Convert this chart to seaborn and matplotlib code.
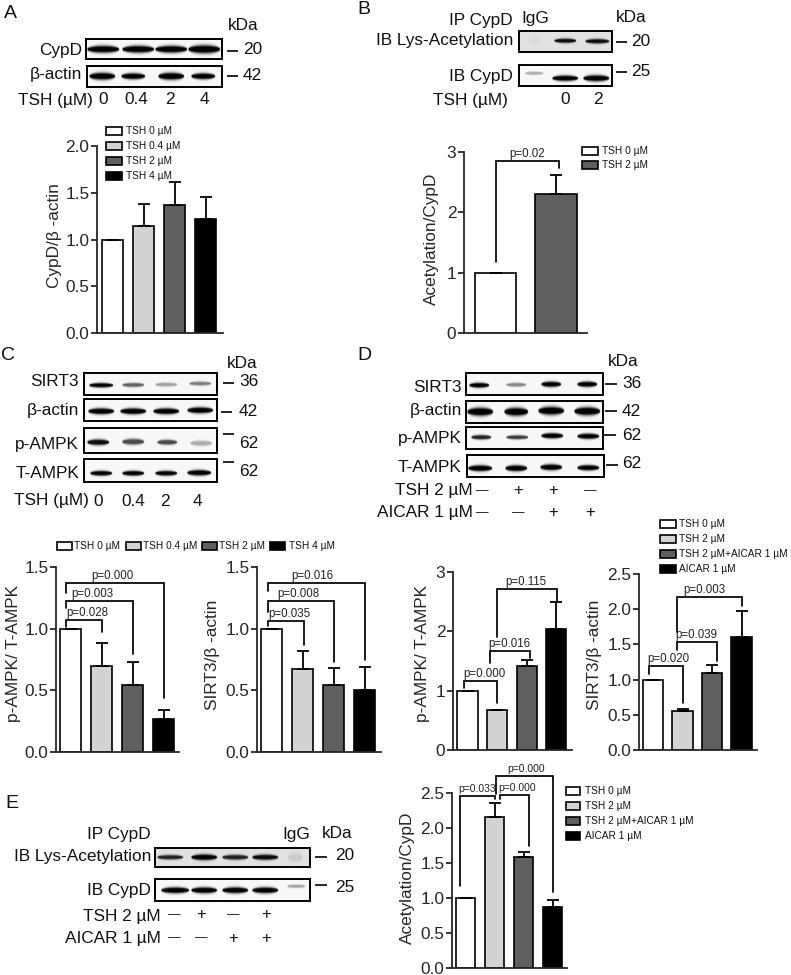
import numpy as np
import pandas as pd
import matplotlib
matplotlib.use('Agg')
import matplotlib.pyplot as plt
from matplotlib.patches import Rectangle
import seaborn as sns

# colours of the four bar groups
WHITE, LIGHT, DARK, BLACK = '#ffffff', '#d3d3d3', '#5f5f5f', '#000000'

# bar values and upper error arms
a_groups = ['TSH 0 µM', 'TSH 0.4 µM', 'TSH 2 µM', 'TSH 4 µM']
a_vals = [1.0, 1.14, 1.37, 1.22]
a_errs = [0.0, 0.24, 0.25, 0.23]

b_groups = ['TSH 0 µM', 'TSH 2 µM']
b_vals = [1.0, 2.31]
b_errs = [0.0, 0.31]

c1_vals = [1.0, 0.70, 0.54, 0.27]
c1_errs = [0.0, 0.18, 0.19, 0.07]
c2_vals = [1.0, 0.67, 0.54, 0.50]
c2_errs = [0.0, 0.15, 0.14, 0.19]

d_groups = ['TSH 0 µM', 'TSH 2 µM', 'TSH 2 µM+AICAR 1 µM', 'AICAR 1 µM']
d1_vals = [1.0, 0.68, 1.42, 2.04]
d1_errs = [0.0, 0.0, 0.09, 0.46]
d2_vals = [1.0, 0.56, 1.10, 1.60]
d2_errs = [0.0, 0.02, 0.11, 0.38]

e_vals = [1.0, 2.15, 1.58, 0.87]
e_errs = [0.0, 0.20, 0.08, 0.09]

# brackets: x left, y left end, y top, x right, y right end, text, text x
b_brackets = [(0.0, 1.18, 2.85, 1.05, 2.73, 'p=0.02', 0.52)]
c1_brackets = [(-0.16, 1.016, 1.07, 1.0, 0.97, 'p=0.028', 0.52),
               (-0.16, 1.164, 1.226, 2.0, 0.795, 'p=0.003', 0.71),
               (-0.16, 1.286, 1.372, 3.0, 0.437, 'p=0.000', 1.35)]
c2_brackets = [(-0.11, 1.024, 1.062, 1.04, 0.868, 'p=0.035', 0.58),
               (-0.11, 1.137, 1.221, 2.0, 0.733, 'p=0.008', 0.85),
               (-0.11, 1.30, 1.372, 3.01, 0.747, 'p=0.016', 1.33)]
d1_brackets = [(-0.11, 1.05, 1.17, 1.01, 0.79, 'p=0.000', 0.585),
               (0.77, 1.46, 1.67, 2.12, 1.55, 'p=0.016', 1.42),
               (1.0, 1.90, 2.72, 3.02, 2.50, 'p=0.115', 1.97)]
d2_brackets = [(-0.12, 1.077, 1.20, 1.0, 0.664, 'p=0.020', 0.52),
               (0.82, 1.42, 1.53, 2.16, 1.27, 'p=0.039', 1.47),
               (0.82, 1.68, 2.18, 3.0, 2.04, 'p=0.003', 1.75)]
e_brackets = [(-0.19, 1.17, 2.46, 1.03, 2.42, 'p=0.033', 0.41),
              (1.19, 2.42, 2.47, 2.19, 1.74, 'p=0.000', 1.79),
              (1.05, 2.49, 2.74, 3.02, 1.08, 'p=0.000', 2.09)]

sns.set_style('ticks')
plt.rcParams['font.family'] = 'Liberation Sans'
plt.rcParams['text.color'] = '#111111'
W, H = 791, 975
fig = plt.figure(figsize=(W / 100, H / 100), dpi=100)

# overlay in picture pixels for gels, labels and legends
over = fig.add_axes([0, 0, 1, 1], zorder=10)
over.set_xlim(0, W)
over.set_ylim(H, 0)
over.set_autoscale_on(False)
over.axis('off')


def txt(x, y, s, ha='left', size=12.4):
    over.text(x, y, s, ha=ha, va='center', fontsize=size)


def dash(x0, x1, y):
    over.plot([x0, x1], [y, y], color='black', lw=1.2, solid_capstyle='butt')


def legend(x, ys, labels, colors, tx=None, w=16):
    if tx is None:
        tx = x + w + 4
    for y, lab, col in zip(ys, labels, colors):
        over.add_patch(Rectangle((x, y - 4), w, 8, fc=col, ec='black', lw=1.2))
        txt(tx, y + 0.3, lab, size=7.3)


def blot(box, xs, ys, hw, hh, dark, bg=0.97):
    # one gel strip with soft lens shaped bands
    x0, y0, x1, y1 = box
    gx, gy = np.meshgrid(np.arange(x0, x1, 0.5), np.arange(y0, y1, 0.5))
    img = np.zeros_like(gx)
    for bx, by, w, h, d in zip(xs, ys, hw, hh, dark):
        dx = (gx - bx) / w
        edge = np.sqrt(np.clip(1 - dx ** 2, 0, 1))
        band = np.exp(-((gy - by) / (h * edge + 0.25)) ** 2) * (edge > 0)
        img = np.maximum(img, np.clip(band * d * 1.5, 0, d))
    over.imshow(bg * (1 - img), cmap='gray', vmin=0, vmax=1, aspect='auto',
                extent=(x0, x1, y1, y0), interpolation='bilinear')
    over.add_patch(Rectangle((x0, y0), x1 - x0, y1 - y0, fill=False, ec='black', lw=1.4))


def chart(box, c0, step, groups, vals, errs, colors, ymax, ticks, ticklabels,
          ylabel, label_xy, brackets=(), psize=8.3):
    x0, y0, x1, y1 = box
    ax = fig.add_axes([x0 / W, 1 - y1 / H, (x1 - x0) / W, (y1 - y0) / H])
    df = pd.DataFrame({'group': groups, 'value': vals})
    sns.barplot(data=df, x='group', y='value', hue='group', order=groups, hue_order=groups,
                palette=colors, edgecolor='black', linewidth=1.2, width=0.68,
                saturation=1, legend=False, ax=ax)
    ax.errorbar(range(len(vals)), vals, yerr=[np.zeros(len(errs)), errs], fmt='none',
                ecolor='black', elinewidth=1.3, capsize=4.5, capthick=1.3)
    ax.set_xlim((x0 - c0) / step, (x1 - c0) / step)
    ax.set_ylim(0, ymax)
    ax.set_xticks([])
    ax.set_xlabel('')
    ax.set_yticks(ticks)
    ax.set_yticklabels(ticklabels, fontsize=12.4)
    ax.tick_params(axis='y', length=4.5, width=1.3, pad=1)
    ax.set_ylabel(ylabel, fontsize=12.4, va='center')
    ax.yaxis.set_label_coords((label_xy[0] - x0) / (x1 - x0), (y1 - label_xy[1]) / (y1 - y0))
    sns.despine(ax=ax)
    for side in ['left', 'bottom']:
        ax.spines[side].set_linewidth(1.3)
    ax.patch.set_alpha(0)
    for xl, yl, top, xr, yr, lab, lx in brackets:
        ax.plot([xl, xl, xr, xr], [yl, top, top, yr], color='black', lw=1.25,
                clip_on=False, solid_joinstyle='miter')
        ax.annotate(lab, (lx, top), xytext=(0, 5), textcoords='offset points',
                    ha='center', va='center', fontsize=psize, color='#222222',
                    annotation_clip=False)
    return ax


# ---- A ----
txt(4, 13, 'A', size=14)
txt(228, 25, 'kDa')
txt(82, 50, 'CypD', ha='right')
txt(82, 75, 'β-actin', ha='right')
blot((86, 39, 222, 59), [103, 138, 171, 204], [49] * 4, [16, 16, 16, 16], [3, 3, 3, 3.5], [1, 1, 1, 1])
blot((87, 66, 222, 87), [102, 133, 171, 203], [76] * 4, [13, 12, 13, 12], [3, 2.5, 3, 2.5], [1, 1, 1, 1])
dash(227, 238, 51)
txt(243, 50, '20')
dash(227, 238, 76)
txt(243, 76, '42')
txt(18, 100, 'TSH (µM)')
for x, s in zip([103, 136, 170, 204], ['0', '0.4', '2', '4']):
    txt(x, 100, s, ha='center')
legend(106, [131, 146, 161, 176], a_groups, [WHITE, LIGHT, DARK, BLACK])
chart((97, 146, 223, 333), 112.5, 31, a_groups, a_vals, a_errs, [WHITE, LIGHT, DARK, BLACK],
      2.0, [0, 0.5, 1, 1.5, 2], ['0.0', '0.5', '1.0', '1.5', '2.0'], 'CypD/β -actin', (54, 236))

# ---- B ----
txt(357, 10, 'B', size=14)
txt(513, 20, 'IP CypD', ha='right')
txt(521, 18, 'IgG')
txt(616, 18, 'kDa')
txt(513, 41, 'IB Lys-Acetylation', ha='right')
blot((519, 31, 612, 52), [534, 565, 597], [40, 40.5, 41], [5, 11, 12], [3, 1.7, 1.8], [0.03, 0.95, 0.95], bg=0.88)
txt(513, 77, 'IB CypD', ha='right')
blot((519, 65, 612, 86), [534, 565, 596], [73, 78, 78], [9, 13, 13], [1.2, 2.3, 2.6], [0.3, 1, 1])
dash(616, 627, 42)
txt(631, 41, '20')
dash(616, 627, 72)
txt(631, 71, '25')
txt(433, 100, 'TSH (µM)')
txt(565, 100, '0', ha='center')
txt(598, 100, '2', ha='center')
legend(582, [151, 165], b_groups, [WHITE, DARK])
chart((464, 152, 587, 333), 495.5, 60.5, b_groups, b_vals, b_errs, [WHITE, DARK],
      3, [0, 1, 2, 3], ['0', '1', '2', '3'], 'Acetylation/CypD', (431, 239), b_brackets)

# ---- C ----
txt(1, 355, 'C', size=14)
txt(227, 363, 'kDa')
for y, s in zip([382, 411, 445, 474], ['SIRT3', 'β-actin', 'p-AMPK', 'T-AMPK']):
    txt(79, y, s, ha='right')
blot((84, 373, 217, 395), [101, 133, 166, 200], [385, 384.7, 384.3, 383.3], [12, 11, 11, 11],
     [1.8, 1.6, 1.5, 1.5], [1, 0.6, 0.35, 0.5])
blot((84, 399, 217, 421), [101, 133, 166, 200], [411, 411, 411, 410], [13, 13, 13, 13], [2.5] * 4, [1] * 4)
blot((84, 428, 217, 453), [98, 133, 167, 201], [442, 441.5, 442, 443], [11, 11, 10, 11], [2.4, 2.4, 2, 2],
     [0.95, 0.7, 0.7, 0.3])
blot((84, 459, 217, 482), [101, 133, 166, 199], [473, 473, 473, 472.5], [11, 11, 11, 12], [2, 2, 2, 2.3], [1] * 4)
dash(223, 234, 383)
dash(221, 232, 412)
dash(223, 234, 434)
dash(223, 234, 462)
for y, s in zip([382, 411, 443, 471], ['36', '42', '62', '62']):
    txt(239, y, s)
txt(14, 501, 'TSH (µM)')
for x, s in zip([98, 133, 165, 197], ['0', '0.4', '2', '4']):
    txt(x, 501, s, ha='center')
for x, tx, lab, col in zip([57, 126, 202, 270], [74, 143, 219, 289], a_groups, [WHITE, LIGHT, DARK, BLACK]):
    legend(x, [546], [lab], [col], tx=tx, w=15)
chart((56, 566.7, 179, 752.3), 70.7, 31, a_groups, c1_vals, c1_errs, [WHITE, LIGHT, DARK, BLACK],
      1.5, [0, 0.5, 1, 1.5], ['0.0', '0.5', '1.0', '1.5'], 'p-AMPK/ T-AMPK', (14, 653), c1_brackets)
chart((257, 566.7, 381, 752.3), 271.5, 31, a_groups, c2_vals, c2_errs, [WHITE, LIGHT, DARK, BLACK],
      1.5, [0, 0.5, 1, 1.5], ['0.0', '0.5', '1.0', '1.5'], 'SIRT3/β -actin', (212, 655), c2_brackets)

# ---- D ----
txt(357, 355, 'D', size=14)
txt(608, 361, 'kDa')
for y, s in zip([387, 411, 439, 468], ['SIRT3', 'β-actin', 'p-AMPK', 'T-AMPK']):
    txt(462, y, s, ha='right')
blot((466, 373, 603, 395), [479, 516, 551, 587], [385, 384.5, 384, 384], [10, 10, 10, 10], [2, 1.5, 2.2, 2.2],
     [1, 0.45, 1, 1])
blot((466, 401, 603, 423), [480, 516, 551, 587], [411.5, 411.5, 410.5, 411], [13, 12, 13, 13], [3.5] * 4, [1] * 4)
blot((466, 427, 603, 449), [481, 517, 552, 588], [437, 437, 435.5, 436], [10, 11, 11, 11], [1.8, 1.6, 2.2, 2.2],
     [0.85, 0.75, 1, 1])
blot((467, 455, 604, 477), [480, 516, 551, 588], [468, 468, 467, 467.5], [12, 11, 11, 11], [2.5, 2.5, 2.5, 2.2], [1] * 4)
dash(605, 617, 384)
dash(605, 617, 411)
dash(604, 616, 435)
dash(606, 618, 465)
for y, s in zip([384, 411, 436, 464], ['36', '42', '62', '62']):
    txt(622, y, s)
txt(473, 490, 'TSH 2 µM', ha='right')
txt(473, 513, 'AICAR 1 µM', ha='right')
for x, s in zip([482, 518, 553, 590], ['—', '+', '+', '—']):
    txt(x, 491, s, ha='center', size=12 if s == '+' else 9)
for x, s in zip([482, 518, 553, 590], ['—', '—', '+', '+']):
    txt(x, 513, s, ha='center', size=12 if s == '+' else 9)
legend(660, [524, 539, 554, 569], d_groups, [WHITE, LIGHT, DARK, BLACK], tx=679)
chart((453, 572, 572, 750), 467.5, 29.6, d_groups, d1_vals, d1_errs, [WHITE, LIGHT, DARK, BLACK],
      3, [0, 1, 2, 3], ['0', '1', '2', '3'], 'p-AMPK/ T-AMPK', (423, 653), d1_brackets)
chart((639, 574, 757, 750), 653, 29.5, d_groups, d2_vals, d2_errs, [WHITE, LIGHT, DARK, BLACK],
      2.5, [0, 0.5, 1, 1.5, 2, 2.5], ['0.0', '0.5', '1.0', '1.5', '2.0', '2.5'], 'SIRT3/β -actin', (594, 655),
      d2_brackets)

# ---- E ----
txt(5, 803, 'E', size=14)
txt(151, 834, 'IP CypD', ha='right')
txt(282, 834, 'IgG')
txt(322, 834, 'kDa')
txt(151, 857, 'IB Lys-Acetylation', ha='right')
txt(151, 891, 'IB CypD', ha='right')
blot((155, 848, 310, 867), [170, 204, 235, 265, 295], [857] * 5, [13, 13, 13, 13, 7], [1.8, 2.4, 2, 2.2, 4],
     [0.85, 1, 0.85, 0.95, 0.1], bg=0.88)
blot((155, 879, 310, 901), [175, 204, 235, 265, 296], [890, 890, 890, 890, 886], [14, 13, 13, 13, 9],
     [2.5, 2.5, 2.5, 2.5, 1.2], [1, 1, 1, 1, 0.35])
dash(315, 327, 857)
txt(335, 856, '20')
dash(315, 327, 885)
txt(335, 888, '25')
txt(161, 916, 'TSH 2 µM', ha='right')
txt(161, 939, 'AICAR 1 µM', ha='right')
for x, s in zip([174, 201, 233, 266], ['—', '+', '—', '+']):
    txt(x, 915, s, ha='center', size=12 if s == '+' else 9)
for x, s in zip([174, 201, 233, 266], ['—', '—', '+', '+']):
    txt(x, 938, s, ha='center', size=12 if s == '+' else 9)
legend(566, [791, 806, 821, 836], d_groups, [WHITE, LIGHT, DARK, BLACK], tx=585, w=14)
chart((452, 793, 567, 967.5), 465.5, 29, d_groups, e_vals, e_errs, [WHITE, LIGHT, DARK, BLACK],
      2.5, [0, 0.5, 1, 1.5, 2, 2.5], ['0.0', '0.5', '1.0', '1.5', '2.0', '2.5'], 'Acetylation/CypD', (407, 878),
      e_brackets, psize=7.5)

fig.savefig('out.png', dpi=100)
